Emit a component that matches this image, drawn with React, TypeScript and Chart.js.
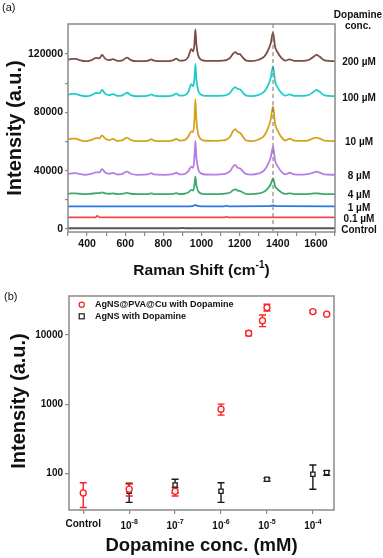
import React, { useEffect, useRef } from 'react';
import { Chart, registerables } from 'chart.js';

Chart.register(...registerables);

const FONT_FAMILY = '"Liberation Sans", Arial, Helvetica, sans-serif';

// ---------------- Panel (a): Raman spectra ----------------
const WAVENUMBER = [
  300, 320, 340, 360, 390, 420, 449, 465, 478, 495,
  515, 536, 560, 585, 609, 630, 660, 700, 725, 737,
  750, 800, 850, 868, 885, 910, 930, 947, 957, 963,
  968, 973, 982, 995, 1020, 1080, 1110, 1130, 1150, 1165,
  1177, 1190, 1202, 1215, 1232, 1260, 1300, 1330, 1350, 1363,
  1375, 1386, 1398, 1420, 1440, 1462, 1485, 1530, 1565, 1590,
  1603, 1620, 1645, 1700,
];

const SPEC_200UM = [
  116000, 116600, 116600, 115800, 115000, 115600, 117300, 117000, 119300, 116800,
  115800, 116500, 115200, 115600, 117400, 115800, 115000, 115100, 115600, 116300,
  115400, 115000, 115600, 116800, 115400, 115600, 117800, 123300, 121800, 126800,
  136800, 126800, 119300, 116300, 115300, 115200, 115400, 115800, 117300, 120000,
  121200, 120000, 119800, 117800, 115600, 115100, 116000, 118300, 122800, 127300,
  134800, 124800, 121300, 117100, 115400, 116300, 115300, 115200, 116000, 118300,
  119300, 118000, 115600, 115000,
];

const SPEC_100UM = [
  92000, 92600, 92600, 91800, 91000, 91600, 93300, 93000, 95300, 92800,
  91800, 92500, 91200, 91600, 93400, 91800, 91000, 91100, 91600, 92300,
  91400, 91000, 91600, 92800, 91400, 91600, 93800, 99300, 97800, 103000,
  113200, 103000, 95300, 92300, 91300, 91200, 91400, 91800, 93300, 96000,
  97200, 96000, 95800, 93800, 91600, 91100, 92000, 94300, 98800, 103600,
  111400, 101100, 97300, 93100, 91400, 92300, 91300, 91200, 92000, 94300,
  95300, 94000, 91600, 91000,
];

const SPEC_10UM = [
  61300, 62000, 62000, 61100, 60200, 60900, 62300, 62200, 64200, 62000,
  61000, 61800, 60400, 60900, 62700, 61000, 60200, 60300, 60800, 61600,
  60600, 60200, 60800, 61800, 60600, 60900, 63200, 67000, 66500, 75000,
  89000, 75000, 65500, 61800, 60500, 60400, 60700, 61300, 63200, 67000,
  68500, 66500, 66000, 63600, 60900, 60300, 61400, 64200, 69600, 75000,
  84000, 72000, 67800, 62800, 60700, 62000, 60600, 60400, 61000, 62300,
  62700, 62000, 60600, 60200,
];

const SPEC_8UM = [
  37800, 38200, 38300, 37800, 37200, 37800, 38800, 38800, 41100, 38800,
  37900, 38500, 37400, 37800, 39300, 37900, 37200, 37300, 37700, 38400,
  37500, 37200, 37700, 38600, 37500, 37700, 39500, 42700, 42000, 49500,
  60400, 49500, 41500, 38400, 37400, 37300, 37600, 38100, 39700, 42700,
  43900, 42000, 41600, 39800, 37800, 37300, 38100, 40400, 44800, 49200,
  56500, 46700, 43300, 39200, 37500, 38600, 37500, 37300, 37800, 38900,
  39300, 38700, 37500, 37200,
];

const SPEC_4UM = [
  24200, 24400, 24400, 24200, 23900, 24200, 24600, 24600, 25200, 24500,
  24200, 24400, 24000, 24100, 24800, 24200, 23900, 23900, 24100, 24500,
  24000, 23900, 24100, 24600, 24000, 24200, 25100, 26800, 26400, 30300,
  35900, 30300, 26100, 24500, 24000, 24000, 24100, 24400, 25100, 26600,
  27200, 26400, 26100, 25200, 24200, 23900, 24400, 25700, 28200, 30700,
  34800, 29300, 27400, 25100, 24100, 24500, 24000, 23900, 24100, 24400,
  24500, 24300, 24000, 23900,
];

const SPEC_1UM_X = [300, 940, 958, 968, 978, 1000, 1118, 1130, 1142, 1355, 1375, 1392, 1700];
const SPEC_1UM_Y = [15600, 15600, 15900, 16500, 15900, 15600, 15600, 16000, 15600, 15700, 16200, 15700, 15600];

const SPEC_01UM_X = [300, 445, 452, 458, 465, 1118, 1130, 1142, 1700];
const SPEC_01UM_Y = [8000, 8000, 9000, 8800, 8000, 8000, 8300, 8000, 8000];

const SPEC_CONTROL_X = [300, 880, 900, 920, 1700];
const SPEC_CONTROL_Y = [500, 500, 800, 500, 500];

const TRACE_LABELS = ['Control', '0.1 µM', '1 µM', '4 µM', '8 µM', '10 µM', '100 µM', '200 µM'];
const TRACE_COLORS = ['#555555', '#f04848', '#2a78e4', '#3caa6e', '#b77de6', '#d6a21c', '#22cccc', '#7d4b45'];

const X_MAJOR_A = [400, 600, 800, 1000, 1200, 1400, 1600];
const X_MINOR_A = [300, 500, 700, 900, 1100, 1300, 1500, 1700];
const Y_MAJOR_A = [0, 40000, 80000, 120000];
const Y_MINOR_A = [20000, 60000, 100000];
const PEAK_LINE_CM = 1375;

// ---------------- Panel (b): intensity vs concentration ----------------
const CONTROL_POSITION_MM = 1e-9;
const X_TICKS_B = [1e-9, 1e-8, 1e-7, 1e-6, 1e-5, 1e-4];
const X_TICK_LABELS_B: [string, string][] = [
  ['Control', ''], ['10', '-8'], ['10', '-7'], ['10', '-6'], ['10', '-5'], ['10', '-4'],
];
const Y_TICKS_B = [100, 1000, 10000];

const RED_CONC = [CONTROL_POSITION_MM, 1e-8, 1e-7, 1e-6, 4e-6, 8e-6, 1e-5, 1e-4, 2e-4];
const RED_MEAN = [52, 59, 55, 845, 10600, 16100, 24900, 21800, 20000];
const RED_LOW = [32, 47, 47, 693, 9700, 13200, 22200, 20800, 19400];
const RED_HIGH = [73, 70, 62, 1000, 11300, 19400, 27800, 22800, 20600];

const BLACK_CONC = [1e-8, 1e-7, 1e-6, 1e-5, 1e-4, 2e-4];
const BLACK_MEAN = [55, 68, 55, 82, 97, 103];
const BLACK_LOW = [38, 52, 38, 77, 59, 94];
const BLACK_HIGH = [72, 82, 73, 85, 132, 109];

const LEGEND_B = ['AgNS@PVA@Cu with Dopamine', 'AgNS with Dopamine'];
const RED = '#ff1e1e';
const BLACK = '#1a1a1a';
const FRAME = '#8a8a8a';

const zip = (xs: number[], ys: number[]) => xs.map((x, i) => ({ x, y: ys[i] }));

function font(size: number, weight = 'bold') {
  return `${weight} ${size}px ${FONT_FAMILY}`;
}

function drawSupText(ctx: CanvasRenderingContext2D, parts: { t: string; size: number; dy: number }[], cx: number, cy: number) {
  let total = 0;
  const widths = parts.map((p) => {
    ctx.font = font(p.size);
    const w = ctx.measureText(p.t).width;
    total += w;
    return w;
  });
  let x = cx - total / 2;
  ctx.textAlign = 'left';
  ctx.textBaseline = 'alphabetic';
  parts.forEach((p, i) => {
    ctx.font = font(p.size);
    ctx.fillText(p.t, x, cy + p.dy);
    x += widths[i];
  });
}

const spectraPlugin = {
  id: 'spectraDecor',
  afterDatasetsDraw(chart: any) {
    const { ctx, chartArea: a, scales } = chart;
    ctx.save();
    const px = scales.x.getPixelForValue(PEAK_LINE_CM);
    ctx.strokeStyle = '#707070';
    ctx.lineWidth = 1;
    ctx.setLineDash([4, 3]);
    ctx.beginPath();
    ctx.moveTo(px, a.top);
    ctx.lineTo(px, a.bottom);
    ctx.stroke();
    ctx.setLineDash([]);
    ctx.strokeStyle = FRAME;
    ctx.lineWidth = 1.5;
    ctx.strokeRect(a.left, a.top, a.right - a.left, a.bottom - a.top);
    ctx.restore();
  },
  afterDraw(chart: any) {
    const { ctx, chartArea: a, scales } = chart;
    ctx.save();
    ctx.fillStyle = '#111';
    ctx.font = font(11, 'normal');
    ctx.textAlign = 'left';
    ctx.textBaseline = 'middle';
    ctx.fillText('(a)', 2, 8);

    // y title
    ctx.save();
    ctx.translate(21, (a.top + a.bottom) / 2);
    ctx.rotate(-Math.PI / 2);
    ctx.font = font(20);
    ctx.textAlign = 'center';
    ctx.textBaseline = 'alphabetic';
    ctx.fillText('Intensity (a.u.)', 0, 0);
    ctx.restore();

    // x title
    drawSupText(
      ctx,
      [
        { t: 'Raman Shift (cm', size: 15.5, dy: 0 },
        { t: '-1', size: 10, dy: -7 },
        { t: ')', size: 15.5, dy: 0 },
      ],
      (a.left + a.right) / 2,
      275,
    );

    // right labels
    ctx.font = font(10);
    ctx.textAlign = 'center';
    ctx.textBaseline = 'middle';
    ctx.fillText('Dopamine', 358, 15);
    ctx.fillText('conc.', 358, 26);
    chart.data.datasets.forEach((ds: any, i: number) => {
      const last = ds.data[ds.data.length - 1].y;
      const y = scales.y.getPixelForValue(last) + 1.5;
      ctx.fillText(TRACE_LABELS[i], 359, y);
    });
    ctx.restore();
  },
};

const scatterPlugin = {
  id: 'scatterDecor',
  beforeDatasetsDraw(chart: any) {
    const { ctx, scales } = chart;
    const groups = [
      { c: RED_CONC, lo: RED_LOW, hi: RED_HIGH, color: RED },
      { c: BLACK_CONC, lo: BLACK_LOW, hi: BLACK_HIGH, color: BLACK },
    ];
    ctx.save();
    ctx.lineWidth = 1.4;
    groups.slice().reverse().forEach((g) => {
      ctx.strokeStyle = g.color;
      g.c.forEach((c, i) => {
        const x = scales.x.getPixelForValue(c);
        const y1 = scales.y.getPixelForValue(g.lo[i]);
        const y2 = scales.y.getPixelForValue(g.hi[i]);
        ctx.beginPath();
        ctx.moveTo(x, y1);
        ctx.lineTo(x, y2);
        ctx.moveTo(x - 3.5, y1);
        ctx.lineTo(x + 3.5, y1);
        ctx.moveTo(x - 3.5, y2);
        ctx.lineTo(x + 3.5, y2);
        ctx.stroke();
      });
    });
    ctx.restore();
  },
  afterDatasetsDraw(chart: any) {
    const { ctx, chartArea: a } = chart;
    ctx.save();
    ctx.strokeStyle = FRAME;
    ctx.lineWidth = 1.5;
    ctx.strokeRect(a.left, a.top, a.right - a.left, a.bottom - a.top);
    ctx.restore();
  },
  afterDraw(chart: any) {
    const { ctx, chartArea: a, scales } = chart;
    ctx.save();
    ctx.fillStyle = '#111';
    ctx.font = font(11, 'normal');
    ctx.textAlign = 'left';
    ctx.textBaseline = 'middle';
    ctx.fillText('(b)', 4, 17);

    // legend
    const ly = [24.7, 36.3];
    ctx.lineWidth = 1.2;
    ctx.strokeStyle = RED;
    ctx.beginPath();
    ctx.arc(81.7, ly[0], 2.6, 0, Math.PI * 2);
    ctx.stroke();
    ctx.strokeStyle = BLACK;
    ctx.strokeRect(79.2, ly[1] - 2.5, 5, 5);
    ctx.fillStyle = '#111';
    ctx.font = font(9);
    ctx.fillText(LEGEND_B[0], 95, ly[0]);
    ctx.fillText(LEGEND_B[1], 95, ly[1]);

    // x tick labels
    X_TICKS_B.forEach((v, i) => {
      const x = scales.x.getPixelForValue(v);
      const [base, exp] = X_TICK_LABELS_B[i];
      if (!exp) {
        ctx.font = font(10);
        ctx.textAlign = 'center';
        ctx.textBaseline = 'middle';
        ctx.fillText(base, x, 244);
      } else {
        drawSupText(ctx, [
          { t: base, size: 10, dy: 0 },
          { t: exp, size: 7, dy: -5 },
        ], x, 248.5);
      }
    });

    // y title
    ctx.save();
    ctx.translate(25, (a.top + a.bottom) / 2 - 2);
    ctx.rotate(-Math.PI / 2);
    ctx.font = font(20);
    ctx.textAlign = 'center';
    ctx.textBaseline = 'alphabetic';
    ctx.fillText('Intensity (a.u.)', 0, 0);
    ctx.restore();

    // x title
    ctx.font = font(18.5);
    ctx.textAlign = 'center';
    ctx.textBaseline = 'alphabetic';
    ctx.fillText('Dopamine conc. (mM)', (a.left + a.right) / 2, 271);
    ctx.restore();
  },
};

export default function App() {
  const refA = useRef<HTMLCanvasElement>(null);
  const refB = useRef<HTMLCanvasElement>(null);

  useEffect(() => {
    document.body.style.margin = '0';
    const traces = [
      zip(SPEC_CONTROL_X, SPEC_CONTROL_Y),
      zip(SPEC_01UM_X, SPEC_01UM_Y),
      zip(SPEC_1UM_X, SPEC_1UM_Y),
      zip(WAVENUMBER, SPEC_4UM),
      zip(WAVENUMBER, SPEC_8UM),
      zip(WAVENUMBER, SPEC_10UM),
      zip(WAVENUMBER, SPEC_100UM),
      zip(WAVENUMBER, SPEC_200UM),
    ];
    const tickFont = { family: FONT_FAMILY, size: 10.5, weight: 'bold' as const };
    const chartA = new Chart(refA.current!, {
      type: 'line',
      data: {
        datasets: traces.map((d, i) => ({
          label: TRACE_LABELS[i],
          data: d,
          borderColor: TRACE_COLORS[i],
          borderWidth: i === 0 ? 2 : 1.8,
          pointRadius: 0,
          fill: false,
          cubicInterpolationMode: 'monotone' as const,
        })),
      },
      options: {
        animation: false,
        responsive: false,
        layout: { padding: { left: 0, right: 48, top: 24, bottom: 0 } },
        plugins: { legend: { display: false }, tooltip: { enabled: false } },
        scales: {
          x: {
            type: 'linear',
            min: 300,
            max: 1700,
            afterBuildTicks: (s: any) => {
              s.ticks = [...X_MAJOR_A, ...X_MINOR_A].sort((p, q) => p - q).map((v) => ({ value: v }));
            },
            afterFit: (s: any) => { s.height = 48; },
            ticks: {
              autoSkip: false,
              maxRotation: 0,
              padding: 2,
              color: '#111',
              font: tickFont,
              callback: (v: any) => (X_MAJOR_A.includes(Number(v)) ? String(v) : ''),
            },
            grid: { drawOnChartArea: false, drawTicks: true, tickLength: 4, color: FRAME, lineWidth: 1.2 },
            border: { display: false },
          },
          y: {
            type: 'linear',
            min: -2000,
            max: 140500,
            afterBuildTicks: (s: any) => {
              s.ticks = [...Y_MAJOR_A, ...Y_MINOR_A].sort((p, q) => p - q).map((v) => ({ value: v }));
            },
            afterFit: (s: any) => { s.width = 68; },
            ticks: {
              autoSkip: false,
              padding: 2,
              color: '#111',
              font: tickFont,
              callback: (v: any) => (Y_MAJOR_A.includes(Number(v)) ? String(v) : ''),
            },
            grid: { drawOnChartArea: false, drawTicks: true, tickLength: 3, color: FRAME, lineWidth: 1.2 },
            border: { display: false },
          },
        },
      },
      plugins: [spectraPlugin],
    } as any);

    const chartB = new Chart(refB.current!, {
      type: 'scatter',
      data: {
        datasets: [
          {
            label: LEGEND_B[0],
            data: zip(RED_CONC, RED_MEAN),
            pointStyle: 'circle',
            pointRadius: 3,
            borderColor: RED,
            backgroundColor: '#ffffff',
            borderWidth: 1.3,
          },
          {
            label: LEGEND_B[1],
            data: zip(BLACK_CONC, BLACK_MEAN),
            pointStyle: 'rect',
            pointRadius: 3,
            borderColor: BLACK,
            backgroundColor: '#ffffff',
            borderWidth: 1.3,
          },
        ],
      },
      options: {
        animation: false,
        responsive: false,
        layout: { padding: { left: 0, right: 49, top: 16, bottom: 0 } },
        plugins: { legend: { display: false }, tooltip: { enabled: false } },
        scales: {
          x: {
            type: 'logarithmic',
            min: Math.pow(10, -9.31),
            max: Math.pow(10, -3.54),
            afterBuildTicks: (s: any) => { s.ticks = X_TICKS_B.map((v) => ({ value: v })); },
            afterFit: (s: any) => { s.height = 48; },
            ticks: { autoSkip: false, maxRotation: 0, callback: () => '' },
            grid: { drawOnChartArea: false, drawTicks: true, tickLength: 4, color: FRAME, lineWidth: 1.2 },
            border: { display: false },
          },
          y: {
            type: 'logarithmic',
            min: 29.5,
            max: 36600,
            afterBuildTicks: (s: any) => { s.ticks = Y_TICKS_B.map((v) => ({ value: v })); },
            afterFit: (s: any) => { s.width = 69; },
            ticks: {
              autoSkip: false,
              padding: 2,
              color: '#111',
              font: { family: FONT_FAMILY, size: 10, weight: 'bold' },
              callback: (v: any) => String(v),
            },
            grid: { drawOnChartArea: false, drawTicks: true, tickLength: 4, color: FRAME, lineWidth: 1.2 },
            border: { display: false },
          },
        },
      },
      plugins: [scatterPlugin],
    } as any);

    return () => {
      chartA.destroy();
      chartB.destroy();
    };
  }, []);

  return (
    <div style={{ position: 'absolute', left: 0, top: 0, width: 383, height: 558, background: '#fff' }}>
      <canvas ref={refA} width={383} height={280} style={{ position: 'absolute', left: 0, top: 0, display: 'block' }} />
      <canvas ref={refB} width={383} height={278} style={{ position: 'absolute', left: 0, top: 280, display: 'block' }} />
    </div>
  );
}
